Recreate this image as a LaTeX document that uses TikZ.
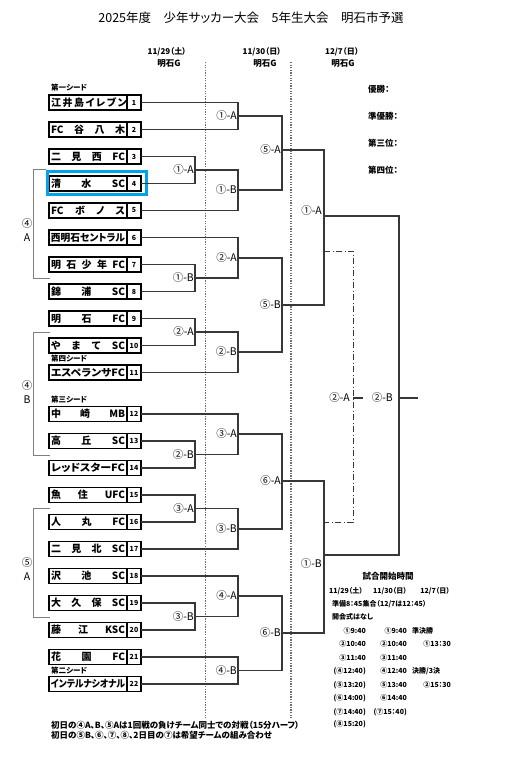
\documentclass[tikz,border=0pt]{standalone}
\usepackage{graphicx}
\usepackage{fontspec}
\setmainfont{Noto Sans CJK JP}[RawFeature=+palt]
\usetikzlibrary{positioning}

\definecolor{selblue}{RGB}{0,162,232}
\definecolor{brgray}{RGB}{55,55,55}
\definecolor{sepgray}{RGB}{110,110,110}

\tikzset{
  team/.style={draw,line width=1.4pt,minimum width=78pt,minimum height=15pt,inner sep=0pt,outer sep=0pt,font=\fontsize{10}{10}\selectfont\bfseries},
  num/.style={draw,line width=1.4pt,minimum width=14pt,minimum height=15pt,inner sep=0pt,outer sep=0pt,font=\fontsize{7}{7}\selectfont\bfseries},
  br/.style={draw=brgray,line width=1.1pt},
  grp/.style={draw=gray,line width=1pt},
  sep/.style={draw=sepgray,line width=1.3pt,dash pattern=on 1.3pt off 1.3pt},
  dd/.style={draw=brgray,line width=1pt,dash pattern=on 6pt off 2.5pt on 1pt off 2.5pt},
  lab/.style={anchor=east,inner sep=1pt,font=\fontsize{10.5}{10.5}\selectfont},
  small/.style={inner sep=0pt,font=\fontsize{7}{7}\selectfont\bfseries},
  seed/.style={anchor=west,inner sep=0pt,font=\fontsize{7.5}{7.5}\selectfont\bfseries}
}

\begin{document}
\begin{tikzpicture}[x=1pt,y=-1pt]
    \useasboundingbox (0,0) rectangle (514,759);

    \node[font=\fontsize{12.5}{12.5}\selectfont] (title) at (251,18) {2025年度　少年サッカー大会　5年生大会　明石市予選};

    \node[small,font=\fontsize{8}{8}\selectfont\bfseries] (day1) at (167,52) {11/29（土）};
    \node[small,font=\fontsize{8.5}{8.5}\selectfont\bfseries] (gnd1) at (169,63) {明石G};
    \node[small,font=\fontsize{8}{8}\selectfont\bfseries] (day2) at (262,52) {11/30（日）};
    \node[small,font=\fontsize{8.5}{8.5}\selectfont\bfseries] (gnd2) at (265,63) {明石G};
    \node[small,font=\fontsize{8}{8}\selectfont\bfseries] (day3) at (342,52) {12/7（日）};
    \node[small,font=\fontsize{8.5}{8.5}\selectfont\bfseries] (gnd3) at (343,63) {明石G};

    \draw[sep] (205.5,62) -- (205.5,718);
    \draw[sep] (291,62) -- (291,718);

    \draw[grp] (46,170) -| (33,278) -- (50,278);
    \draw[grp] (50,332) -| (33,455) -- (50,455);
    \draw[grp] (50,508.5) -| (33,617) -- (50,617);
    \node[lab,anchor=center] (g4a) at (27,224) {④};
    \node[lab,anchor=center] (g4al) at (27,238) {A};
    \node[lab,anchor=center] (g4b) at (27,386) {④};
    \node[lab,anchor=center] (g4bl) at (27,400) {B};
    \node[lab,anchor=center] (g5a) at (27,563) {⑤};
    \node[lab,anchor=center] (g5al) at (27,577) {A};

    \node[seed] (seed1) at (51,88) {第一シード};
    \node[seed] (seed4) at (51,359) {第四シード};
    \node[seed] (seed3) at (51,400) {第三シード};
    \node[seed] (seed2) at (51,671) {第二シード};

    \node[team] (t1) at (88,102.5) {\makebox[74pt][s]{江 井 島 イ レ ブ ン}};
    \node[num,right=0pt of t1] (n1) {1};
    \node[team] (t2) at (88,129.5) {\makebox[74pt][s]{FC 谷 八 木}};
    \node[num,right=0pt of t2] (n2) {2};
    \node[team] (t3) at (88,156.5) {\makebox[74pt][s]{二 見 西 FC}};
    \node[num,right=0pt of t3] (n3) {3};
    \node[team] (t4) at (88,183.5) {\makebox[74pt][s]{清 水 SC}};
    \node[num,right=0pt of t4] (n4) {4};
    \node[team] (t5) at (88,210.5) {\makebox[74pt][s]{FC ボ ノ ス}};
    \node[num,right=0pt of t5] (n5) {5};
    \node[team] (t6) at (88,237.5) {\resizebox{74pt}{\height}{西明石セントラル}};
    \node[num,right=0pt of t6] (n6) {6};
    \node[team] (t7) at (88,264.5) {\makebox[74pt][s]{明 石 少 年 FC}};
    \node[num,right=0pt of t7] (n7) {7};
    \node[team] (t8) at (88,291.5) {\makebox[74pt][s]{錦 浦 SC}};
    \node[num,right=0pt of t8] (n8) {8};
    \node[team] (t9) at (88,318.5) {\makebox[74pt][s]{明 石 FC}};
    \node[num,right=0pt of t9] (n9) {9};
    \node[team] (t10) at (88,345.5) {\makebox[74pt][s]{や ま て SC}};
    \node[num,right=0pt of t10] (n10) {10};
    \node[team] (t11) at (88,372.5) {\resizebox{74pt}{\height}{エスペランサFC}};
    \node[num,right=0pt of t11] (n11) {11};
    \node[team] (t12) at (88,414) {\makebox[74pt][s]{中 崎 MB}};
    \node[num,right=0pt of t12] (n12) {12};
    \node[team] (t13) at (88,441) {\makebox[74pt][s]{高 丘 SC}};
    \node[num,right=0pt of t13] (n13) {13};
    \node[team] (t14) at (88,468) {\resizebox{74pt}{\height}{レッドスターFC}};
    \node[num,right=0pt of t14] (n14) {14};
    \node[team] (t15) at (88,495) {\makebox[74pt][s]{魚 住 UFC}};
    \node[num,right=0pt of t15] (n15) {15};
    \node[team] (t16) at (88,522) {\makebox[74pt][s]{人 丸 FC}};
    \node[num,right=0pt of t16] (n16) {16};
    \node[team] (t17) at (88,549) {\makebox[74pt][s]{二 見 北 SC}};
    \node[num,right=0pt of t17] (n17) {17};
    \node[team] (t18) at (88,576) {\makebox[74pt][s]{沢 池 SC}};
    \node[num,right=0pt of t18] (n18) {18};
    \node[team] (t19) at (88,603) {\makebox[74pt][s]{大 久 保 SC}};
    \node[num,right=0pt of t19] (n19) {19};
    \node[team] (t20) at (88,630) {\makebox[74pt][s]{藤 江 KSC}};
    \node[num,right=0pt of t20] (n20) {20};
    \node[team] (t21) at (88,657) {\makebox[74pt][s]{花 園 FC}};
    \node[num,right=0pt of t21] (n21) {21};
    \node[team] (t22) at (88,684) {\resizebox{74pt}{\height}{インテルナシオナル}};
    \node[num,right=0pt of t22] (n22) {22};

    \node[draw=selblue,line width=3pt,minimum width=99pt,minimum height=23pt] (sel) at (96.5,183) {};

    \coordinate (p34) at (195,170);
    \coordinate (p78) at (195,278);
    \coordinate (p910) at (195,332);
    \coordinate (p1314) at (195,454.5);
    \coordinate (p1516) at (195,508.5);
    \coordinate (p1920) at (195,616.5);
    \draw[br] (n3.east) -| (p34) |- (n4.east);
    \draw[br] (n7.east) -| (p78) |- (n8.east);
    \draw[br] (n9.east) -| (p910) |- (n10.east);
    \draw[br] (n13.east) -| (p1314) |- (n14.east);
    \draw[br] (n15.east) -| (p1516) |- (n16.east);
    \draw[br] (n19.east) -| (p1920) |- (n20.east);
    \node[lab] (Lp34) at (p34) {①-A};
    \node[lab] (Lp78) at (p78) {①-B};
    \node[lab] (Lp910) at (p910) {②-A};
    \node[lab] (Lp1314) at (p1314) {②-B};
    \node[lab] (Lp1516) at (p1516) {③-A};
    \node[lab] (Lp1920) at (p1920) {③-B};

    \coordinate (q12) at (238,116);
    \coordinate (q345) at (238,190);
    \coordinate (q678) at (238,258);
    \coordinate (q91011) at (238,352);
    \coordinate (q121314) at (238,434);
    \coordinate (q151617) at (238,529);
    \coordinate (q181920) at (238,596);
    \coordinate (q2122) at (238,670.5);
    \draw[br] (n1.east) -| (q12) |- (n2.east);
    \draw[br] (p34) -| (q345) |- (n5.east);
    \draw[br] (n6.east) -| (q678) |- (p78);
    \draw[br] (p910) -| (q91011) |- (n11.east);
    \draw[br] (n12.east) -| (q121314) |- (p1314);
    \draw[br] (p1516) -| (q151617) |- (n17.east);
    \draw[br] (n18.east) -| (q181920) |- (p1920);
    \draw[br] (n21.east) -| (q2122) |- (n22.east);
    \node[lab] (Lq12) at (q12) {①-A};
    \node[lab] (Lq345) at (q345) {①-B};
    \node[lab] (Lq678) at (q678) {②-A};
    \node[lab] (Lq91011) at (q91011) {②-B};
    \node[lab] (Lq121314) at (q121314) {③-A};
    \node[lab] (Lq151617) at (q151617) {③-B};
    \node[lab] (Lq181920) at (q181920) {④-A};
    \node[lab] (Lq2122) at (q2122) {④-B};

    \coordinate (s1) at (282,150);
    \coordinate (s2) at (282,305);
    \coordinate (s3) at (282,481);
    \coordinate (s4) at (282,633);
    \draw[br] (q12) -| (s1) |- (q345);
    \draw[br] (q678) -| (s2) |- (q91011);
    \draw[br] (q121314) -| (s3) |- (q151617);
    \draw[br] (q181920) -| (s4) |- (q2122);
    \node[lab] (Ls1) at (s1) {⑤-A};
    \node[lab] (Ls2) at (s2) {⑤-B};
    \node[lab] (Ls3) at (s3) {⑥-A};
    \node[lab] (Ls4) at (s4) {⑥-B};

    \coordinate (sf1) at (324,216);
    \coordinate (sf2) at (324,555);
    \draw[br] (s1) -| (sf1) |- (s2);
    \draw[br] (s3) -| (sf2) |- (s4);
    \node[lab] (Lsf1) at (323,211) {①-A};
    \node[lab] (Lsf2) at (323,564) {①-B};

    \coordinate (fin) at (399,398);
    \coordinate (champ) at (418,398);
    \draw[br] (sf1) -| (fin) |- (sf2);
    \draw[br] (fin) -- (champ);
    \node[lab] (Lfin) at (394,398) {②-B};

    \coordinate (tp1) at (324,251);
    \coordinate (tp2) at (324,522);
    \coordinate (tp) at (353,398);
    \coordinate (third) at (363,398);
    \draw[dd] (tp1) -| (tp) |- (tp2);
    \draw[br] (tp) -- (third);
    \node[lab] (Ltp) at (351,398) {②-A};

    \node[small,anchor=west,font=\fontsize{8.5}{8.5}\selectfont\bfseries] (win1) at (368,89) {優勝：};
    \node[small,anchor=west,font=\fontsize{8.5}{8.5}\selectfont\bfseries] (win2) at (368,116) {準優勝：};
    \node[small,anchor=west,font=\fontsize{8.5}{8.5}\selectfont\bfseries] (win3) at (368,143) {第三位：};
    \node[small,anchor=west,font=\fontsize{8.5}{8.5}\selectfont\bfseries] (win4) at (368,170) {第四位：};

    \node[small,font=\fontsize{8.5}{8.5}\selectfont\bfseries] (stitle) at (388,576) {試合開始時間};
    \node[small,anchor=east] (sd1) at (363,591) {11/29（土）};
    \node[small,anchor=east] (sd2) at (407,591) {11/30（日）};
    \node[small,anchor=east] (sd3) at (450,591) {12/7（日）};
    \node[small,anchor=west] (prep) at (332,604) {準備8：45集合（12/7は12：45）};
    \node[small,anchor=west] (open) at (332,617) {開会式はなし};

    \node[small,anchor=east] (a1) at (366,631) {①9:40};
    \node[small,anchor=east] (a2) at (366,644) {②10:40};
    \node[small,anchor=east] (a3) at (366,658) {③11:40};
    \node[small,anchor=east] (a4) at (366,671) {(④12:40)};
    \node[small,anchor=east] (a5) at (366,685) {(⑤13:20)};
    \node[small,anchor=east] (a6) at (366,698) {(⑥14:00)};
    \node[small,anchor=east] (a7) at (366,712) {(⑦14:40)};
    \node[small,anchor=east] (a8) at (366,724) {(⑧15:20)};

    \node[small,anchor=east] (b1) at (407,631) {①9:40};
    \node[small,anchor=east] (b2) at (407,644) {②10:40};
    \node[small,anchor=east] (b3) at (407,658) {③11:40};
    \node[small,anchor=east] (b4) at (407,671) {④12:40};
    \node[small,anchor=east] (b5) at (407,685) {⑤13:40};
    \node[small,anchor=east] (b6) at (407,698) {⑥14:40};
    \node[small,anchor=east] (b7) at (407,712) {(⑦15：40)};

    \node[small,anchor=west] (c0) at (412,631) {準決勝};
    \node[small,anchor=east] (c1) at (451,644) {①13：30};
    \node[small,anchor=west] (c3) at (412,671) {決勝/3決};
    \node[small,anchor=east] (c2) at (451,685) {②15：30};

    \node[small,anchor=west,font=\fontsize{8.5}{8.5}\selectfont\bfseries] (note1) at (51,725) {初日の④A、B、⑤Aは1回戦の負けチーム同士での対戦（15分ハーフ）};
    \node[small,anchor=west,font=\fontsize{8.5}{8.5}\selectfont\bfseries] (note2) at (51,735) {初日の⑤B、⑥、⑦、⑧、2日目の⑦は希望チームの組み合わせ};
\end{tikzpicture}
\end{document}
